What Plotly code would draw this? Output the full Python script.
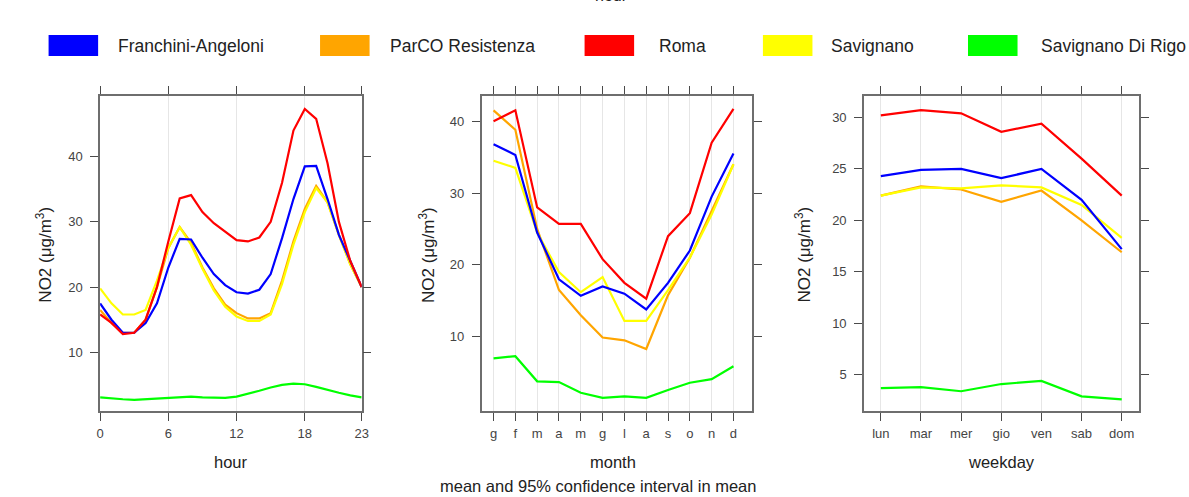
import plotly.graph_objects as go

W, H = 1189, 497

sites = ["Franchini-Angeloni", "ParCO Resistenza", "Roma", "Savignano", "Savignano Di Rigo"]
colors = ["#0000FF", "#FFA500", "#FF0000", "#FFFF00", "#00FF00"]

hours = list(range(24))
hour_vals = {
    "Franchini-Angeloni": [17.5, 15, 13, 13, 14.5, 17.5, 23, 27.4, 27.3, 24.5, 22, 20.3, 19.2, 19, 19.6, 22, 27.5, 33.5, 38.5, 38.6, 33.5, 28, 24, 20],
    "ParCO Resistenza": [16.5, 14.5, 13, 13, 15, 20, 26, 29.2, 26.8, 23, 19.8, 17.3, 16, 15.2, 15.2, 16, 21, 27, 32, 35.5, 33, 28, 23.5, 20],
    "Roma": [15.8, 14.5, 12.8, 13, 15, 20, 27, 33.6, 34.1, 31.5, 29.8, 28.5, 27.2, 27, 27.6, 30, 36, 44, 47.3, 45.8, 39, 30, 24, 20],
    "Savignano": [19.8, 17.5, 15.8, 15.8, 16.5, 21, 26, 29.2, 26.5, 22.8, 19.5, 17, 15.5, 14.8, 14.8, 15.8, 20.5, 26.5, 31.5, 35.2, 33, 28, 23.5, 20],
    "Savignano Di Rigo": [3.1, 2.9, 2.8, 2.7, 2.8, 2.9, 3.0, 3.1, 3.2, 3.1, 3.0, 3.0, 3.2, 3.6, 4.1, 4.6, 5.0, 5.2, 5.1, 4.7, 4.2, 3.8, 3.4, 3.1],
}

months = ["g", "f", "m", "a", "m", "g", "l", "a", "s", "o", "n", "d"]
month_vals = {
    "Franchini-Angeloni": [36.8, 35.3, 24.5, 18, 15.7, 17, 16, 13.8, 17.5, 22, 29.5, 35.5],
    "ParCO Resistenza": [41.5, 38.8, 25, 16.5, 13, 9.9, 9.5, 8.3, 15.8, 21, 27.5, 34],
    "Roma": [40, 41.5, 28, 25.7, 25.7, 20.8, 17.5, 15.3, 24, 27.2, 37, 41.7],
    "Savignano": [34.5, 33.5, 24.5, 19, 16.2, 18.3, 12.2, 12.2, 16.5, 21, 27, 34],
    "Savignano Di Rigo": [7, 7.3, 3.8, 3.7, 2.2, 1.5, 1.7, 1.5, 2.6, 3.6, 4.1, 5.9],
}

weekdays = ["lun", "mar", "mer", "gio", "ven", "sab", "dom"]
weekday_vals = {
    "Franchini-Angeloni": [24.3, 24.9, 25.0, 24.1, 25.0, 22, 17.2],
    "ParCO Resistenza": [22.4, 23.3, 23.0, 21.8, 22.9, 20, 16.9],
    "Roma": [30.2, 30.7, 30.4, 28.6, 29.4, 26, 22.4],
    "Savignano": [22.4, 23.2, 23.1, 23.4, 23.2, 21.5, 18.3],
    "Savignano Di Rigo": [3.7, 3.8, 3.4, 4.1, 4.4, 2.9, 2.6],
}

FONT = "Liberation Sans, Arial, sans-serif"
fig = go.Figure()

month_idx = list(range(len(months)))
day_idx = list(range(len(weekdays)))
draw_order = [1, 3, 0, 2, 4]
for i in draw_order:
    s = sites[i]
    fig.add_trace(go.Scatter(x=hours, y=hour_vals[s], mode="lines", line=dict(color=colors[i], width=2.2),
                             name=s, showlegend=False, xaxis="x", yaxis="y"))
    fig.add_trace(go.Scatter(x=month_idx, y=month_vals[s], mode="lines", line=dict(color=colors[i], width=2.2),
                             name=s, showlegend=False, xaxis="x2", yaxis="y2"))
    fig.add_trace(go.Scatter(x=day_idx, y=weekday_vals[s], mode="lines", line=dict(color=colors[i], width=2.2),
                             name=s, showlegend=False, xaxis="x3", yaxis="y3"))

def px(x):
    return x / W

def py(y):
    return 1 - y / H

ydom = [py(411), py(96)]
axcommon = dict(showline=True, linecolor="#6e6e6e", linewidth=1.5, mirror="ticks", ticks="outside",
                ticklen=8, tickcolor="#4a4a4a", tickwidth=1.2, zeroline=False,
                tickfont=dict(family=FONT, size=13, color="#444"))
xcommon = dict(showgrid=True, gridcolor="#e6e6e6", gridwidth=1, ticklabelstandoff=2, **axcommon)
ycommon = dict(showgrid=False, ticklabelstandoff=5, **axcommon)

fig.update_layout(
    width=W, height=H, margin=dict(l=0, r=0, t=0, b=0),
    paper_bgcolor="white", plot_bgcolor="white",
    font=dict(family=FONT, color="#222"),
    xaxis=dict(domain=[px(97), px(361)], range=[0, 23], tickvals=[0, 6, 12, 18, 23],
               anchor="y", **xcommon),
    yaxis=dict(domain=ydom, range=[1.0, 49.3], tickvals=[10, 20, 30, 40], anchor="x", **ycommon),
    xaxis2=dict(domain=[px(482), px(755)], range=[-0.55, 11.85], tickvals=month_idx, ticktext=months,
                anchor="y2", **xcommon),
    yaxis2=dict(domain=ydom, range=[-0.33, 43.5], tickvals=[10, 20, 30, 40], anchor="x2", **ycommon),
    xaxis3=dict(domain=[px(868), px(1146)], range=[-0.42, 6.44], tickvals=day_idx, ticktext=weekdays,
                anchor="y3", **xcommon),
    yaxis3=dict(domain=ydom, range=[1.48, 32.08], tickvals=[5, 10, 15, 20, 25, 30], anchor="x3", **ycommon),
)

annotations = []
shapes = []
# Legend
leg_rect_x = [45, 319, 586, 766, 973]
leg_text_x = [113, 388, 659, 833, 1045]
for i, s in enumerate(sites):
    shapes.append(dict(type="rect", xref="paper", yref="paper",
                       x0=px(leg_rect_x[i]), x1=px(leg_rect_x[i] + 50), y0=py(56), y1=py(35),
                       fillcolor=colors[i], line=dict(width=0)))
    annotations.append(dict(text=s, xref="paper", yref="paper", x=px(leg_text_x[i]), y=py(46),
                            xanchor="left", yanchor="middle", showarrow=False,
                            font=dict(family=FONT, size=17.5, color="#222")))

# Clipped title remnant at top
annotations.append(dict(text="hour", xref="paper", yref="paper", x=px(613), y=py(-4),
                        xanchor="center", yanchor="middle", showarrow=False,
                        font=dict(family=FONT, size=16, color="#222")))

ytitle = "NO2 (\u03bcg/m<sup>3</sup>)"
for xpos in [40, 427, 806]:
    annotations.append(dict(text=ytitle, xref="paper", yref="paper", x=px(xpos), y=py(255),
                            xanchor="center", yanchor="middle", textangle=-90, showarrow=False,
                            font=dict(family=FONT, size=17, color="#222")))
for txt, xpos in [("hour", 229), ("month", 615), ("weekday", 1007)]:
    annotations.append(dict(text=txt, xref="paper", yref="paper", x=px(xpos), y=py(462),
                            xanchor="center", yanchor="middle", showarrow=False,
                            font=dict(family=FONT, size=16.5, color="#222")))
annotations.append(dict(text="mean and 95% confidence interval in mean", xref="paper", yref="paper",
                        x=px(600), y=py(486), xanchor="center", yanchor="middle", showarrow=False,
                        font=dict(family=FONT, size=16.5, color="#222")))

fig.update_layout(annotations=annotations, shapes=shapes)
fig.write_html("out.html", config={"displayModeBar": False},
               post_script="document.body.style.margin='0px';document.body.style.overflow='hidden';")
